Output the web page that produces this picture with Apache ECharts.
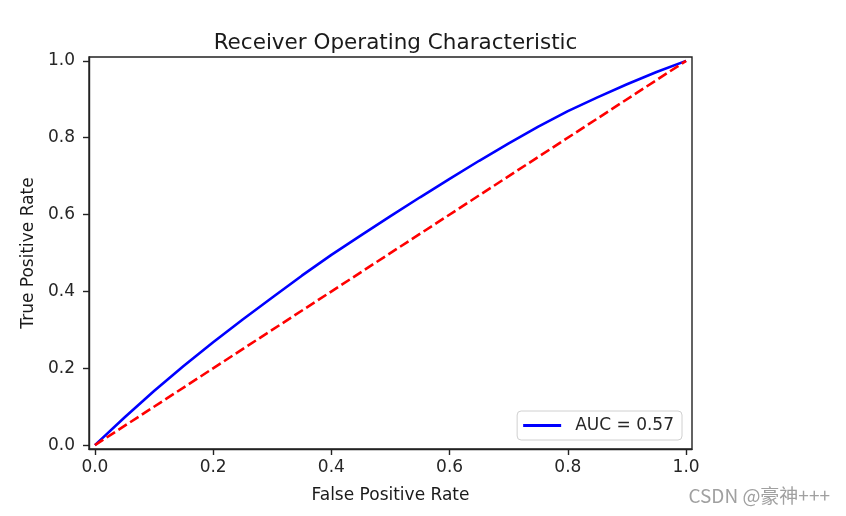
<!DOCTYPE html>
<html>
<head>
<meta charset="utf-8">
<script src="https://cdn.jsdelivr.net/npm/echarts@6/dist/echarts.min.js"></script>
<style>
html,body{margin:0;padding:0;background:#fff;}
#chart{width:846px;height:516px;}
</style>
</head>
<body>
<div id="chart"></div>
<script>
// Data
const fpr = [0, 0.05, 0.1, 0.15, 0.2, 0.25, 0.3, 0.35, 0.4, 0.45, 0.5, 0.55, 0.6, 0.65, 0.7, 0.75, 0.8, 0.85, 0.9, 0.95, 1.0];
const tpr = [0, 0.072, 0.141, 0.206, 0.268, 0.327, 0.384, 0.441, 0.495, 0.546, 0.596, 0.645, 0.693, 0.740, 0.785, 0.829, 0.869, 0.905, 0.939, 0.971, 1.0];
const chanceX = [0, 1];
const chanceY = [0, 1];
const tickValues = [0, 0.2, 0.4, 0.6, 0.8, 1.0];
const aucLabel = 'AUC = 0.57';
const titleText = 'Receiver Operating Characteristic';
const xName = 'False Positive Rate';
const yName = 'True Positive Rate';
const watermark = 'CSDN @豪神+++';

const FONT = 'DejaVu Sans';
const chart = echarts.init(document.getElementById('chart'), null, {renderer: 'canvas'});

function axisCommon(name, isX) {
  return {
    type: 'value',
    min: -0.01,
    max: 1.01,
    name: name,
    nameLocation: 'middle',
    nameGap: isX ? 38 : 50,
    nameRotate: isX ? 0 : 90,
    nameTextStyle: {fontFamily: FONT, fontSize: 17, color: '#1a1a1a'},
    splitLine: {show: false},
    axisLine: {show: true, onZero: false, lineStyle: {color: '#222', width: 1.4}},
    axisTick: {show: true, length: 6, lineStyle: {color: '#222', width: 1.4}, customValues: tickValues},
    axisLabel: {
      fontFamily: FONT, fontSize: 17, color: '#262626',
      margin: isX ? 10 : 14,
      customValues: tickValues,
      formatter: v => v.toFixed(1)
    }
  };
}

chart.setOption({
  animation: false,
  backgroundColor: '#ffffff',
  title: {
    text: titleText,
    left: 390.5,
    top: 27,
    textAlign: 'center',
    textStyle: {fontFamily: FONT, fontSize: 21.5, fontWeight: 'normal', color: '#1a1a1a'}
  },
  grid: {
    left: 89, top: 57, right: 154, bottom: 67,
    show: true, borderColor: '#222', borderWidth: 1.4, backgroundColor: 'transparent',
    containLabel: false
  },
  xAxis: axisCommon(xName, true),
  yAxis: axisCommon(yName, false),
  legend: {
    right: 164,
    bottom: 76,
    orient: 'horizontal',
    data: [{name: aucLabel, icon: 'rect'}],
    itemWidth: 38,
    itemHeight: 3,
    padding: [6, 8, 6, 6],
    borderColor: '#d0d0d0',
    borderWidth: 1,
    borderRadius: 4,
    backgroundColor: 'rgba(255,255,255,0.8)',
    textStyle: {fontFamily: FONT, fontSize: 17, color: '#262626', padding: [0, 0, 0, 9]}
  },
  series: [
    {
      name: aucLabel,
      type: 'line',
      data: fpr.map((x, i) => [x, tpr[i]]),
      showSymbol: false,
      symbol: 'none',
      lineStyle: {color: '#0000ff', width: 2.6},
      itemStyle: {color: '#0000ff'},
      z: 2
    },
    {
      name: 'chance',
      type: 'line',
      data: chanceX.map((x, i) => [x, chanceY[i]]),
      showSymbol: false,
      symbol: 'none',
      lineStyle: {color: '#ff0000', width: 2.6, type: [10, 4]},
      itemStyle: {color: '#ff0000'},
      z: 3
    }
  ],
  graphic: [
    {
      type: 'text',
      right: 16,
      top: 486,
      style: {text: watermark, fontFamily: 'Noto Sans CJK SC', fontSize: 19, fill: '#a0a0a0'}
    }
  ]
});
</script>
</body>
</html>
